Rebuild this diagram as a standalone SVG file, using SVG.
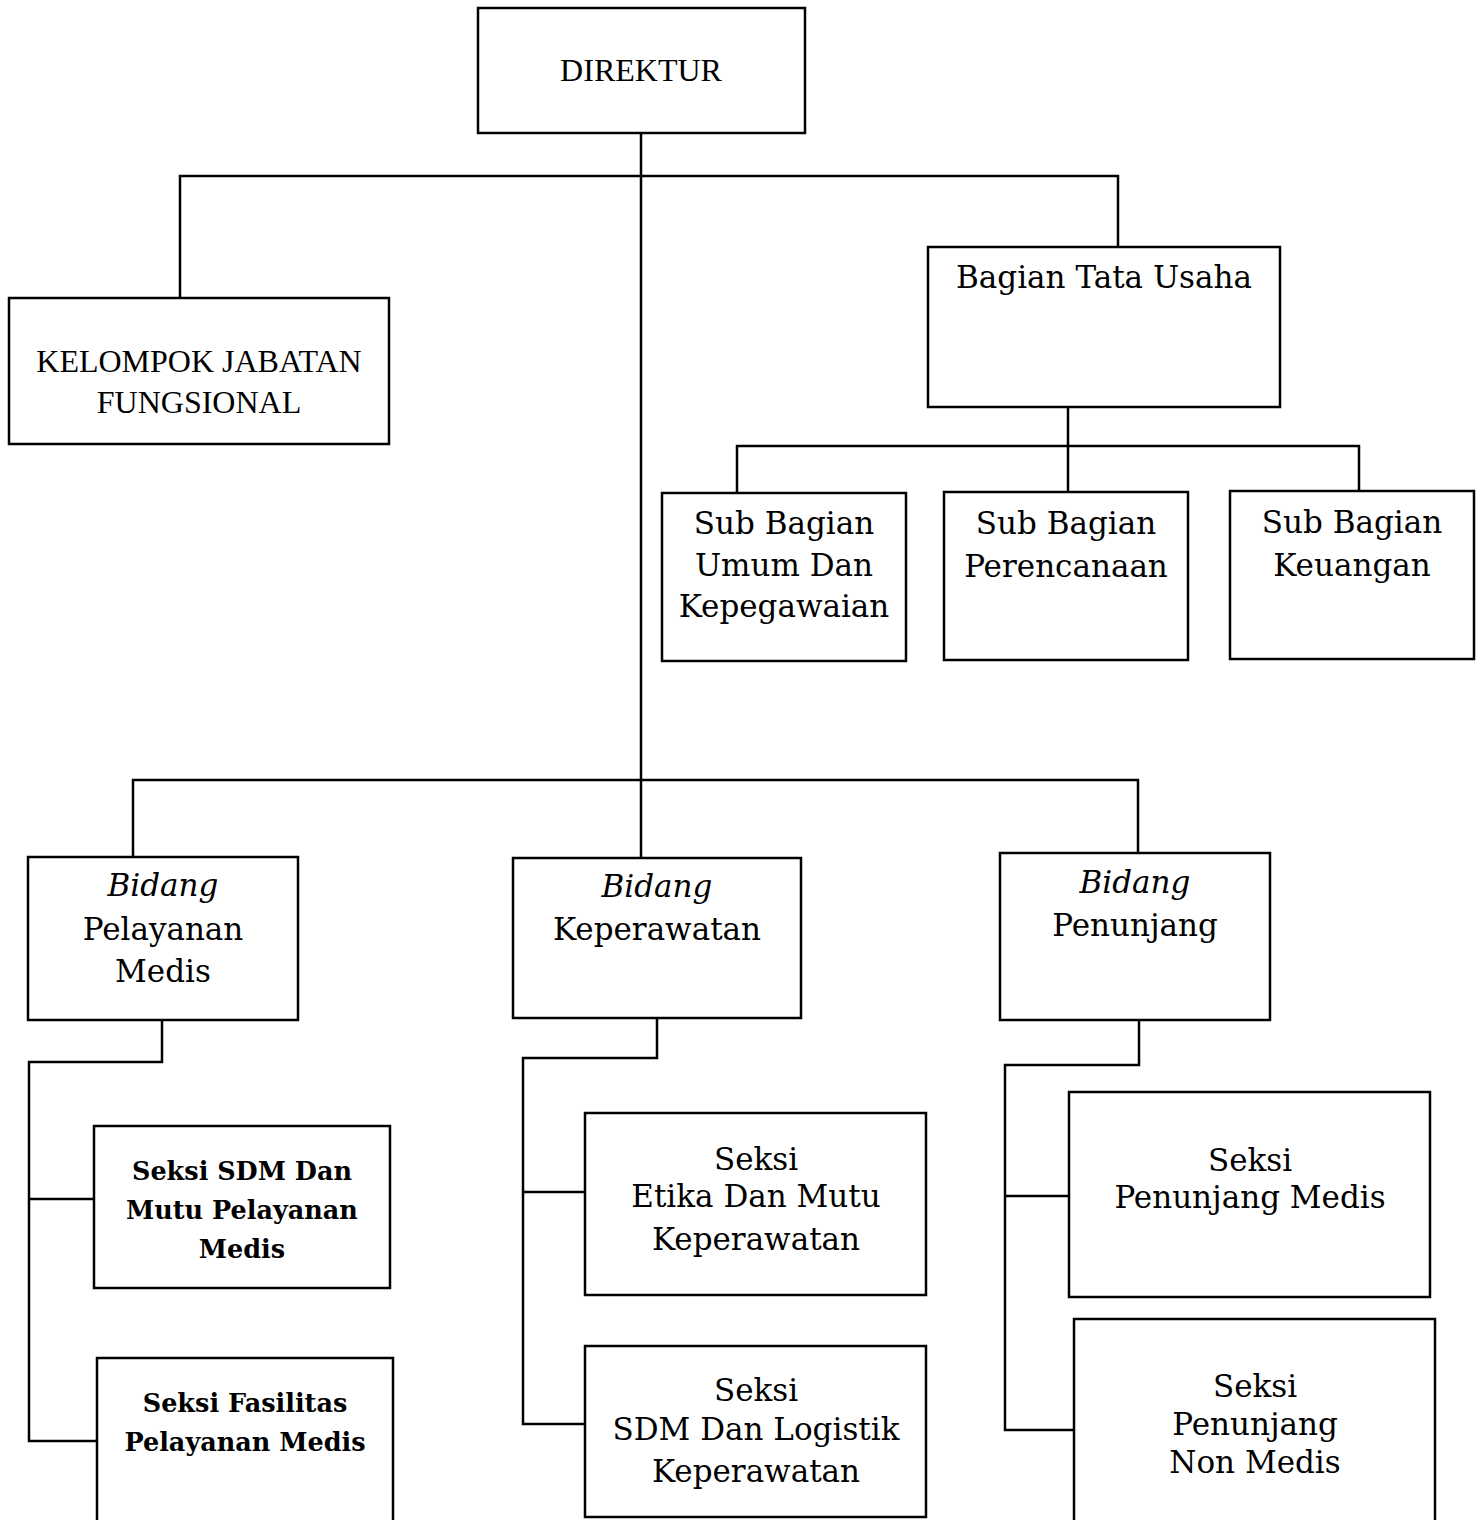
<svg xmlns="http://www.w3.org/2000/svg" width="1483" height="1520" viewBox="0 0 1483 1520">
<style>
.box{fill:#fff;stroke:#000;stroke-width:2.5}
.ln{fill:none;stroke:#000;stroke-width:2.5}
.t{font-family:"Liberation Serif","Times New Roman",serif;font-size:32px;text-anchor:middle;fill:#000}
.b{font-family:"DejaVu Serif",serif;font-size:31px;text-anchor:middle;fill:#000}
.s{font-family:"DejaVu Serif",serif;font-size:25.5px;font-weight:bold;text-anchor:middle;fill:#000}
.i{font-style:italic}
</style>
<rect width="1483" height="1520" fill="#fff"/>
<g id="connectors">
<path class="ln" d="M641 133V780"/>
<path class="ln" d="M180 298V176H1118V247"/>
<path class="ln" d="M1068 407V497"/>
<path class="ln" d="M737 493V446H1359V491"/>
<path class="ln" d="M133 857V780H1138V853"/>
<path class="ln" d="M641 780V858"/>
<path class="ln" d="M162 1020V1062H29V1441H97"/>
<path class="ln" d="M29 1199H94"/>
<path class="ln" d="M657 1018V1058H523V1424H585"/>
<path class="ln" d="M523 1192H585"/>
<path class="ln" d="M1139 1020V1065H1005V1430H1074"/>
<path class="ln" d="M1005 1196H1069"/>
</g>
<g id="direktur"><rect class="box" x="478" y="8" width="327" height="125"/><text class="t" x="641" y="81">DIREKTUR</text></g>
<g id="kelompok"><rect class="box" x="9" y="298" width="380" height="146"/><text class="t" x="199" y="372">KELOMPOK JABATAN</text><text class="t" x="199" y="413">FUNGSIONAL</text></g>
<g id="tata-usaha"><rect class="box" x="928" y="247" width="352" height="160"/><text class="b" x="1104" y="288">Bagian Tata Usaha</text></g>
<g id="sub-umum"><rect class="box" x="662" y="493" width="244" height="168"/><text class="b" x="784" y="534">Sub Bagian</text><text class="b" x="784" y="576">Umum Dan</text><text class="b" x="784" y="617">Kepegawaian</text></g>
<g id="sub-perencanaan"><rect class="box" x="944" y="492" width="244" height="168"/><text class="b" x="1066" y="534">Sub Bagian</text><text class="b" x="1066" y="577">Perencanaan</text></g>
<g id="sub-keuangan"><rect class="box" x="1230" y="491" width="244" height="168"/><text class="b" x="1352" y="533">Sub Bagian</text><text class="b" x="1352" y="576">Keuangan</text></g>
<g id="bidang-pelayanan"><rect class="box" x="28" y="857" width="270" height="163"/><text class="b i" x="163" y="896">Bidang</text><text class="b" x="163" y="940">Pelayanan</text><text class="b" x="163" y="982">Medis</text></g>
<g id="bidang-keperawatan"><rect class="box" x="513" y="858" width="288" height="160"/><text class="b i" x="657" y="897">Bidang</text><text class="b" x="657" y="940">Keperawatan</text></g>
<g id="bidang-penunjang"><rect class="box" x="1000" y="853" width="270" height="167"/><text class="b i" x="1135" y="893">Bidang</text><text class="b" x="1135" y="936">Penunjang</text></g>
<g id="seksi-sdm-mutu"><rect class="box" x="94" y="1126" width="296" height="162"/><text class="s" x="242" y="1180">Seksi SDM Dan</text><text class="s" x="242" y="1219">Mutu Pelayanan</text><text class="s" x="242" y="1258">Medis</text></g>
<g id="seksi-fasilitas"><path class="box" d="M97 1522V1358H393V1522"/><text class="s" x="245" y="1412">Seksi Fasilitas</text><text class="s" x="245" y="1451">Pelayanan Medis</text></g>
<g id="seksi-etika"><rect class="box" x="585" y="1113" width="341" height="182"/><text class="b" x="756" y="1170">Seksi</text><text class="b" x="756" y="1207">Etika Dan Mutu</text><text class="b" x="756" y="1250">Keperawatan</text></g>
<g id="seksi-sdm-logistik"><rect class="box" x="585" y="1346" width="341" height="171"/><text class="b" x="756" y="1401">Seksi</text><text class="b" x="756" y="1440">SDM Dan Logistik</text><text class="b" x="756" y="1482">Keperawatan</text></g>
<g id="seksi-penunjang-medis"><rect class="box" x="1069" y="1092" width="361" height="205"/><text class="b" x="1250" y="1171">Seksi</text><text class="b" x="1250" y="1208">Penunjang Medis</text></g>
<g id="seksi-penunjang-non-medis"><path class="box" d="M1074 1522V1319H1435V1522"/><text class="b" x="1255" y="1397">Seksi</text><text class="b" x="1255" y="1435">Penunjang</text><text class="b" x="1255" y="1473">Non Medis</text></g>
</svg>
